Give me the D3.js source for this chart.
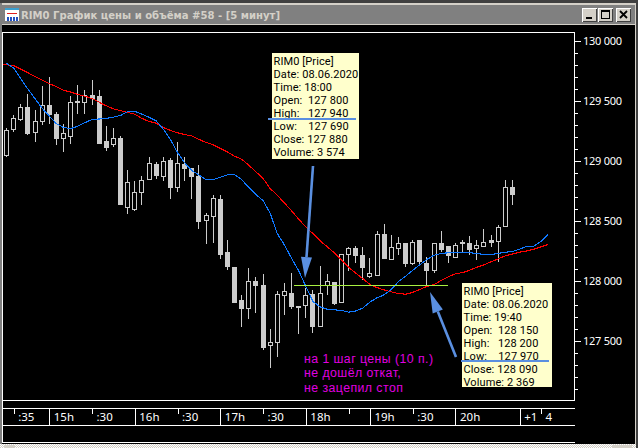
<!DOCTYPE html>
<html><head><meta charset="utf-8">
<script src="https://cdn.jsdelivr.net/npm/d3@7"></script>
<style>
html,body{margin:0;padding:0;background:#000;overflow:hidden}
svg{display:block}
text{white-space:pre}
</style></head><body>
<svg id="c" width="638" height="448"></svg>
<script>
const titleText = "RIM0 График цены и объёма #58 - [5 минут]";
const opens  = [129050,129260,129345,129450,129235,129330,129460,129390,129185,129205,129500,129485,129550,129535,129160,129135,129185,128615,128595,128740,128845,128970,128870,129005,128780,128975,128940,128875,128505,128535,128680,128235,128115,127840,127770,128000,127965,127460,127485,127880,127900,127785,127800,127885,127625,127965,127990,127825,128220,128270,128215,128035,128045,128390,128180,128270,128315,128145,128335,128150,128085,128315,128285,128195,128315,128315,128270,128285,128335,128330,128455,128780];
const highs  = [129275,129380,129475,129560,129425,129625,129700,129410,129310,129540,129635,129590,129675,129590,129290,129275,129210,128925,128835,128875,129030,128995,129030,129025,129155,129030,128945,128965,128565,128720,128715,128340,128115,127885,128110,128035,128060,127600,127915,127985,128065,127785,127940,127925,128125,128060,127990,128225,128285,128290,128280,128190,128415,128475,128385,128365,128320,128340,128335,128200,128315,128415,128285,128315,128340,128375,128340,128435,128385,128465,128840,128840];
const lows   = [129030,129245,129335,129220,129160,129300,129310,129135,129075,129140,129390,129390,129465,129150,129085,129115,128635,128560,128580,128635,128840,128850,128835,128680,128745,128830,128685,128435,128310,128320,128185,128090,127825,127615,127685,127735,127425,127275,127365,127715,127765,127560,127690,127565,127625,127885,127800,127815,128085,128150,128010,128025,128040,128185,128175,128220,128115,128135,128140,127970,128070,128240,128150,128190,128235,128215,128175,128280,128285,128155,128450,128635];
const closes = [129255,129355,129450,129230,129330,129465,129390,129185,129230,129490,129485,129545,129520,129150,129110,129190,128635,128825,128740,128840,128980,128880,128995,128780,128980,128935,128870,128495,128545,128690,128225,128120,127825,127775,127995,127965,127450,127490,127885,127915,127785,127780,127880,127625,127900,128000,127815,128225,128270,128210,128110,128065,128390,128185,128280,128315,128145,128325,128160,128090,128315,128265,128210,128295,128320,128265,128295,128320,128320,128445,128780,128725];
const blueMA = [129815,129775,129685,129600,129520,129440,129375,129310,129280,129270,129290,129320,129345,129350,129355,129365,129380,129410,129415,129390,129365,129335,129265,129180,129070,128985,128920,128885,128845,128845,128865,128885,128885,128845,128780,128720,128670,128565,128395,128300,128190,128085,127955,127830,127785,127765,127760,127755,127740,127750,127775,127825,127860,127885,127930,127995,128040,128090,128135,128180,128215,128230,128235,128240,128240,128235,128230,128220,128220,128230,128240,128245,128265,128290,128290,128330,128390];
const redMA  = [129805,129795,129765,129735,129705,129675,129645,129620,129590,129575,129555,129540,129520,129490,129460,129435,129420,129405,129390,129355,129330,129315,129280,129255,129235,129220,129210,129180,129155,129135,129105,129075,129040,129015,128965,128910,128855,128770,128715,128650,128585,128515,128450,128395,128335,128285,128235,128175,128115,128065,128020,127970,127945,127925,127910,127895,127890,127905,127930,127955,127970,128005,128035,128060,128070,128090,128115,128135,128160,128185,128210,128225,128240,128250,128265,128285,128305];
const priceMajor = [130000,129500,129000,128500,128000,127500];
const priceMinor = d3.range(127100,130000,100);
const timeMajor = [6,18,30,42,51,63,72];
const timeMajorLabels = ["15h","16h","17h","18h","19h","20h","+1"];
const timeMinor = [1,12,24,36,48,57,75];
const timeMinorLabels = [":35",":30",":30",":30","",":30","4"];
const tip1 = ["RIM0 [Price]","Date: 08.06.2020","Time: 18:00","Open:  127 800","High:   127 940","Low:    127 690","Close: 127 880","Volume: 3 574"];
const tip2 = ["RIM0 [Price]","Date: 08.06.2020","Time: 19:40","Open:  128 150","High:   128 200","Low:    127 970","Close: 128 090","Volume: 2 369"];
const note = ["на 1 шаг цены (10 п.)","не дошёл откат,","не зацепил стоп"];
const lowLevel = 127970;

const svg = d3.select("#c");
const W=638,H=448;
const x = d3.scaleLinear().domain([0,71]).range([6.5,512.5]);
const y = d3.scaleLinear().domain([130000,127500]).range([41,341]);
const FONT = "'Noto Sans',sans-serif";
const CAND = "#cccccc", WHITE="#ffffff", LIGHT="#d4d0c8";

// window chrome
svg.append("rect").attr("width",W).attr("height",H).attr("fill","#000");
const chrome = svg.append("g").attr("shape-rendering","crispEdges");
chrome.append("rect").attr("width",W).attr("height",3).attr("fill","#404040");
chrome.append("rect").attr("y",3).attr("width",W).attr("height",2).attr("fill",LIGHT);
chrome.append("rect").attr("y",5).attr("x",2).attr("width",633).attr("height",19).attr("fill","#808080");
chrome.append("rect").attr("y",24).attr("x",2).attr("width",633).attr("height",1).attr("fill",LIGHT);
chrome.append("rect").attr("y",3).attr("width",2).attr("height",441).attr("fill","#808080");
chrome.append("rect").attr("x",635).attr("y",3).attr("width",1).attr("height",441).attr("fill",LIGHT);
chrome.append("rect").attr("x",636).attr("y",3).attr("width",2).attr("height",445).attr("fill","#404040");

// dithered strip at the bottom
const pat = svg.append("defs").append("pattern").attr("id","dith").attr("width",2).attr("height",2).attr("patternUnits","userSpaceOnUse");
pat.append("rect").attr("width",2).attr("height",2).attr("fill",LIGHT);
pat.append("rect").attr("width",1).attr("height",1).attr("fill","#ffffff");
pat.append("rect").attr("x",1).attr("y",1).attr("width",1).attr("height",1).attr("fill","#ffffff");
chrome.append("rect").attr("y",444).attr("width",636).attr("height",4).attr("fill","url(#dith)");
[[4,11],[612,20]].forEach(b=>chrome.append("rect").attr("x",b[0]).attr("y",445).attr("width",b[1]).attr("height",3).attr("fill",LIGHT));

// title icon
const ic = svg.append("g").attr("shape-rendering","crispEdges");
ic.append("rect").attr("x",5).attr("y",8).attr("width",14).attr("height",13).attr("fill","#fff");
ic.append("rect").attr("x",5).attr("y",8).attr("width",14).attr("height",2).attr("fill","#3aa0d0");
ic.append("rect").attr("x",7).attr("y",13).attr("width",10).attr("height",1).attr("fill","#e02020");
d3.range(4).forEach(k=>ic.append("rect").attr("x",7+k*3).attr("y",17).attr("width",2).attr("height",4).attr("fill","#2050c0"));

svg.append("text").attr("x",21).attr("y",19).text(titleText)
  .attr("font-family","'DejaVu Sans',sans-serif").attr("font-weight","bold").attr("font-size",10.5).attr("fill",LIGHT)
  .attr("textLength",259).attr("lengthAdjust","spacingAndGlyphs");

// window buttons
[[582,"min"],[598,"max"],[616,"close"]].forEach(([bx,k])=>{
  const g = svg.append("g").attr("shape-rendering","crispEdges");
  g.append("rect").attr("x",bx).attr("y",8).attr("width",15).attr("height",14).attr("fill",LIGHT);
  g.append("path").attr("d",`M${bx+.5} 21.5V8.5H${bx+14.5}`).attr("fill","none").attr("stroke","#fff");
  g.append("path").attr("d",`M${bx+.5} 21.5H${bx+14.5}V8.5`).attr("fill","none").attr("stroke","#404040");
  if(k==="min") g.append("rect").attr("x",bx+4).attr("y",17).attr("width",6).attr("height",2).attr("fill","#000");
  if(k==="max"){ g.append("rect").attr("x",bx+3.5).attr("y",10.5).attr("width",8).attr("height",8).attr("fill","none").attr("stroke","#000");
                 g.append("rect").attr("x",bx+3).attr("y",10).attr("width",9).attr("height",2).attr("fill","#000"); }
  if(k==="close") svg.append("path").attr("d",`M${bx+4} 11L${bx+11} 18M${bx+11} 11L${bx+4} 18`).attr("stroke","#000").attr("stroke-width",1.8);
});

// frames
const fr = svg.append("g").attr("shape-rendering","crispEdges").attr("stroke",WHITE).attr("fill","none");
fr.append("path").attr("d","M2.5 400.5V32.5H574.5V400.5H2.5");
fr.append("path").attr("d","M2.5 408.5H574.5M2.5 425.5H574.5M2.5 442.5H574.5");
fr.append("path").attr("d","M2.5 400V443").attr("stroke",WHITE);

// price axis
const yMinor = d3.axisRight(y).tickValues(priceMinor.filter(v=>!priceMajor.includes(v))).tickSize(3).tickFormat("");
const yMajor = d3.axisRight(y).tickValues(priceMajor).tickSize(6).tickPadding(2)
  .tickFormat(v=>d3.format(",")(v).replace(/,/g," "));
[yMinor,yMajor].forEach(ax=>{
  const g = svg.append("g").attr("transform","translate(575,0)").call(ax);
  g.select(".domain").remove();
  g.selectAll("line").attr("stroke",WHITE).attr("shape-rendering","crispEdges");
  g.selectAll("text").attr("fill",WHITE).attr("font-family",FONT).attr("font-size",11).attr("letter-spacing",-0.25);
});

// time axis
const tMaj = d3.axisBottom(x).tickValues(timeMajor).tickSize(16).tickPadding(0).tickFormat((d,i)=>timeMajorLabels[i]);
const tMin = d3.axisBottom(x).tickValues(timeMinor).tickSize(5).tickPadding(0).tickFormat((d,i)=>timeMinorLabels[i]);
[tMaj,tMin].forEach(ax=>{
  const g = svg.append("g").attr("transform","translate(0,408.5)").call(ax);
  g.select(".domain").remove();
  g.selectAll("line").attr("stroke",WHITE).attr("shape-rendering","crispEdges");
  g.selectAll("text").attr("fill",WHITE).attr("font-family",FONT).attr("font-size",11.5)
    .attr("text-anchor","start").attr("x",4).attr("y",12).attr("dy",0);
});

// candles
const idx = d3.range(opens.length);
const px = v => Math.floor(v)+0.5;
const cg = svg.append("g").attr("shape-rendering","crispEdges");
cg.selectAll(".w").data(idx).join("line")
  .attr("x1",i=>px(x(i))).attr("x2",i=>px(x(i)))
  .attr("y1",i=>y(highs[i])).attr("y2",i=>y(lows[i]))
  .attr("stroke",CAND);
cg.selectAll(".b").data(idx).join("rect")
  .attr("x",i=>px(x(i))-2).attr("width",4)
  .attr("y",i=>y(Math.max(opens[i],closes[i]))).attr("height",i=>Math.abs(y(opens[i])-y(closes[i])))
  .attr("fill",i=>closes[i]>=opens[i]?"#000":CAND).attr("stroke",CAND);

// moving averages
svg.append("defs").append("clipPath").attr("id","pl").append("rect").attr("x",3).attr("y",33).attr("width",571).attr("height",367);
const line = d3.line().x((d,i)=>x(i)).y(d=>y(d));
const lg = svg.append("g").attr("clip-path","url(#pl)");
lg.append("path").attr("d",d3.line().x((d,i)=>x(i-(i===0?.45:0))).y(d=>y(d))(redMA)).attr("fill","none").attr("stroke","#ff0000").attr("stroke-width",1.1).attr("shape-rendering","crispEdges");
lg.append("path").attr("d",line(blueMA)).attr("fill","none").attr("stroke","#0f78ff").attr("stroke-width",1.1).attr("shape-rendering","crispEdges");

// level
svg.append("line").attr("x1",x(41.0)-5).attr("x2",x(62)-.5).attr("y1",y(lowLevel)+.5).attr("y2",y(lowLevel)+.5)
  .attr("stroke","#a8f040").attr("shape-rendering","crispEdges");

// tooltips
function tip(lines,bx,by,bw,bh,lineX,lineY,lineW){
  const g = svg.append("g");
  g.append("rect").attr("x",bx).attr("y",by).attr("width",bw).attr("height",bh).attr("fill","#ffffcc").attr("shape-rendering","crispEdges");
  g.selectAll("text").data(lines).join("text").attr("x",bx+1.5).attr("y",(d,i)=>by+11.5+i*13).text(d=>d)
    .attr("font-family","Roboto,sans-serif").attr("font-size",11).attr("letter-spacing",0.1).attr("fill","#000");
  g.append("rect").attr("x",lineX).attr("y",lineY).attr("width",lineW).attr("height",2).attr("fill","#5a8fe0").attr("shape-rendering","crispEdges");
}
tip(tip1,272,53,87,106,268,118,88);
tip(tip2,462,283,90,104,461,360,88);

// arrows
const AR="#5a8fe0";
function arrow(x0,y0,x1,y1){
  const a=Math.atan2(y1-y0,x1-x0), hl=21, hw=5.5;
  const bx=x1-hl*Math.cos(a), by=y1-hl*Math.sin(a);
  svg.append("line").attr("x1",x0).attr("y1",y0).attr("x2",bx).attr("y2",by).attr("stroke",AR).attr("stroke-width",2.6);
  svg.append("path").attr("d",`M${x1} ${y1}L${bx-hw*Math.sin(a)} ${by+hw*Math.cos(a)}L${bx+hw*Math.sin(a)} ${by-hw*Math.cos(a)}Z`).attr("fill",AR);
}
arrow(313,166,305,278);
arrow(456,357,430,292);

// note
svg.append("g").selectAll("text").data(note).join("text")
  .attr("x",304).attr("y",(d,i)=>363+i*14.3).text(d=>d)
  .attr("font-family","'Liberation Sans',sans-serif").attr("font-size",12.3).attr("letter-spacing",0.45).attr("fill","#e000e0");
</script></body></html>
